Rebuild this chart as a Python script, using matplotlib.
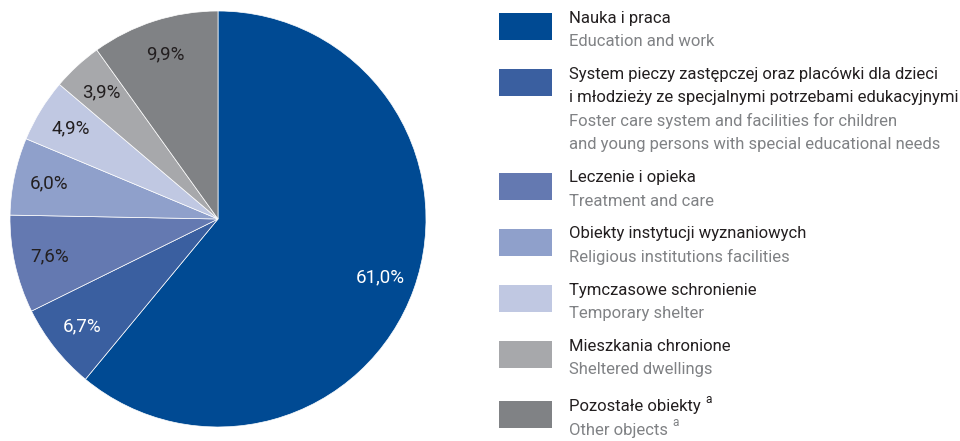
import matplotlib
matplotlib.use("Agg")
from matplotlib import pyplot as plt
from matplotlib.patches import Rectangle

plt.rcParams["font.family"] = ["Roboto", "DejaVu Sans"]

udzialy = [61.0, 6.7, 7.6, 6.0, 4.9, 3.9, 9.9]
kolory = ["#004a93", "#3a5fa0", "#6479b1", "#8fa0cb", "#c0c8e2", "#a7a8ab", "#808285"]
kolory_etykiet = ["white", "white", "#231f20", "#231f20", "#231f20", "#231f20", "#231f20"]
nazwy_pl = [
    ["Nauka i praca"],
    ["System pieczy zastępczej oraz placówki dla dzieci",
     "i młodzieży ze specjalnymi potrzebami edukacyjnymi"],
    ["Leczenie i opieka"],
    ["Obiekty instytucji wyznaniowych"],
    ["Tymczasowe schronienie"],
    ["Mieszkania chronione"],
    ["Pozostałe obiekty"],
]
nazwy_en = [
    ["Education and work"],
    ["Foster care system and facilities for children",
     "and young persons with special educational needs"],
    ["Treatment and care"],
    ["Religious institutions facilities"],
    ["Temporary shelter"],
    ["Sheltered dwellings"],
    ["Other objects"],
]
przypis = [False, False, False, False, False, False, True]

fig = plt.figure(figsize=(9.6, 4.41), dpi=100)

# wykres kołowy
ax = fig.add_axes([10 / 960, 14 / 441, 416 / 960, 416 / 441])
wedges, texts, autotexts = ax.pie(
    udzialy, colors=kolory, startangle=90, counterclock=False,
    autopct=lambda p: f"{p:.1f}%".replace(".", ","), pctdistance=0.83,
    wedgeprops=dict(linewidth=0.5, edgecolor="white"),
)
for t, c in zip(autotexts, kolory_etykiet):
    t.set_color(c)
    t.set_fontsize(13.5)
ax.set_xlim(-1, 1)
ax.set_ylim(-1, 1)
ax.set_aspect("equal")
for w in wedges:
    w.set_clip_on(False)

# legenda
lg = fig.add_axes([490 / 960, 0, 470 / 960, 1])
lg.set_xlim(490, 960)
lg.set_ylim(441, 0)
lg.axis("off")

krok = 23.6
y = 18
for i in range(len(udzialy)):
    lg.add_patch(Rectangle((499, y - 5), 53, 27, color=kolory[i], linewidth=0))
    wiersze = [(s, "#231f20") for s in nazwy_pl[i]] + [(s, "#808285") for s in nazwy_en[i]]
    for k, (s, c) in enumerate(wiersze):
        t = lg.text(569, y + k * krok, s, fontsize=12, color=c, va="center")
        if przypis[i]:
            lg.annotate("a", xy=(1, 1), xycoords=t, xytext=(3, -5),
                        textcoords="offset points", fontsize=8.5,
                        color=c, va="bottom")
    y += len(wiersze) * krok + 9
    if i == 5:
        y += 4

fig.savefig("out.png", dpi=100)
